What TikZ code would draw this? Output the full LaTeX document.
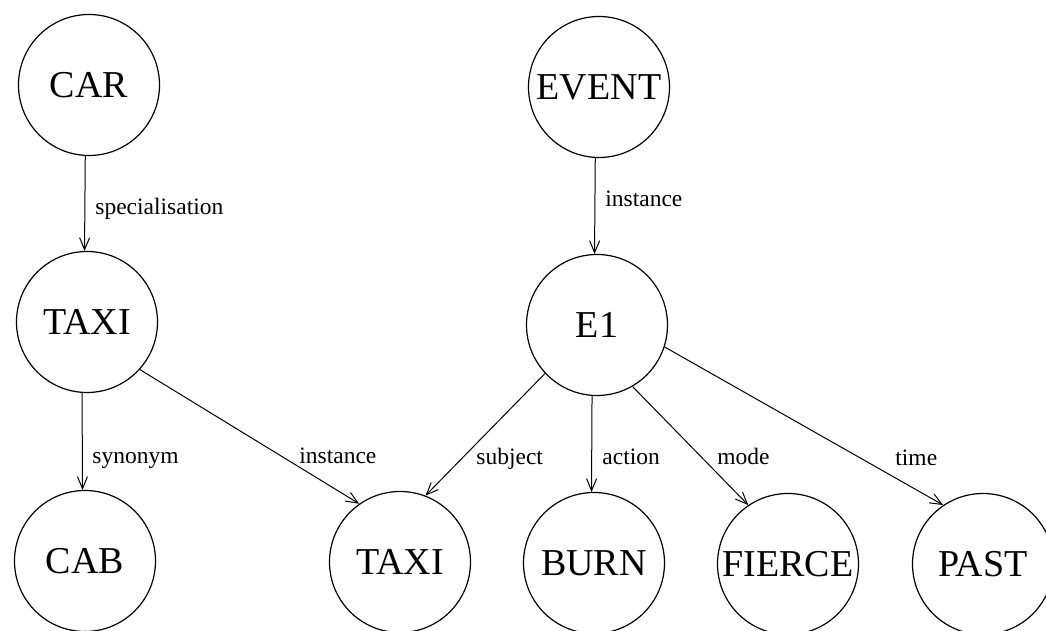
\documentclass[tikz,border=0pt]{standalone}
\usepackage{fontspec}
\setmainfont{Liberation Serif}
\usetikzlibrary{arrows.meta}
\begin{document}
\begin{tikzpicture}[x=0.5pt,y=-0.5pt,
  concept/.style={circle,draw,line width=0.6pt,minimum size=70.5pt,inner sep=0pt,
    font=\fontsize{19}{22}\selectfont},
  rel/.style={-{Straight Barb[length=6pt,width=5pt]},line width=0.5pt},
  lbl/.style={anchor=base west,inner sep=0pt,font=\fontsize{11.75}{14}\selectfont}]
\clip (0,0) rectangle (1046,631);
\fill[white] (0,0) rectangle (1046,631);
% nodes
\node[concept] (car)    at (89,85)   {CAR};
\node[concept] (event)  at (599,87)  {EVENT};
\node[concept] (taxi1)  at (87,322)  {TAXI};
\node[concept] (e1)     at (597,325) {E1};
\node[concept] (cab)    at (85,561)  {CAB};
\node[concept] (taxi2)  at (400,562) {TAXI};
\node[concept] (burn)   at (594,563) {BURN};
\node[concept] (fierce) at (788,564) {FIERCE};
\node[concept] (past)   at (983,564) {PAST};
% connectors
\draw[rel] (car.-93)    -- (taxi1.92);
\draw[rel] (taxi1.-94)  -- (cab.92);
\draw[rel] (taxi1.-42)  -- (taxi2.125);
\draw[rel] (event.-93)  -- (e1.92);
\draw[rel] (e1.223)     -- (taxi2.69);
\draw[rel] (e1.-94)     -- (burn.92);
\draw[rel] (e1.-60)     -- (fierce.124);
\draw[rel] (e1.-18)     -- (past.124);
% labels
\node[lbl] (l1) at (95,215)  {specialisation};
\node[lbl] (l2) at (605,207) {instance};
\node[lbl] (l3) at (92,463)  {synonym};
\node[lbl] (l4) at (299,463) {instance};
\node[lbl] (l5) at (476,464) {subject};
\node[lbl] (l6) at (602,465) {action};
\node[lbl] (l7) at (717,465) {mode};
\node[lbl] (l8) at (895,466) {time};
\end{tikzpicture}
\end{document}
